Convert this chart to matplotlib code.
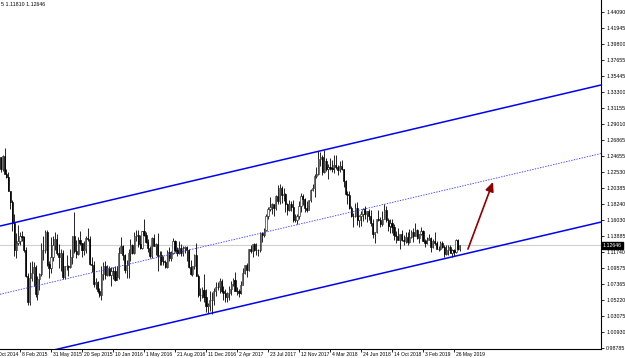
import matplotlib
matplotlib.use("Agg")
import matplotlib.pyplot as plt
import matplotlib.transforms as mtransforms
import pandas as pd
import numpy as np

# ---------------- data ----------------
first_week = "2014-11-16"   # Sunday of first weekly bar
axis_origin = "2014-10-19"  # first date tick

opens = [
    1.2527,1.2387,1.2452,1.2288,1.2465,1.2229,1.2186,1.2001,1.1842,1.1567,
    1.1205,1.1291,1.1315,1.1388,1.1374,1.1196,1.0845,1.0496,1.0824,1.0888,
    1.0970,1.0603,1.0806,1.0873,1.1199,1.1201,1.1447,1.1015,1.0957,1.1110,
    1.1262,1.1350,1.1165,1.1110,1.1164,1.0832,1.0982,1.0985,1.0970,1.1106,
    1.1385,1.1182,1.1148,1.1338,1.1296,1.1199,1.1211,1.1358,1.1346,1.1016,
    1.1003,1.0738,1.0770,1.0643,1.0593,1.0881,1.0989,1.0866,1.0963,1.0863,
    1.0923,1.0916,1.0797,1.0831,1.1157,1.1255,1.1130,1.0933,1.1004,1.1154,
    1.1270,1.1166,1.1390,1.1397,1.1286,1.1226,1.1454,1.1403,1.1310,1.1222,
    1.1116,1.1367,1.1253,1.1278,1.1117,1.1136,1.1053,1.1039,1.0977,1.1175,
    1.1086,1.1160,1.1325,1.1199,1.1157,1.1233,1.1154,1.1226,1.1239,1.1201,
    1.0972,1.0881,1.0987,1.1138,1.0853,1.0588,1.0589,1.0666,1.0562,1.0450,
    1.0454,1.0520,1.0530,1.0644,1.0707,1.0698,1.0784,1.0642,1.0617,1.0562,
    1.0620,1.0671,1.0739,1.0798,1.0652,1.0642,1.0614,1.0726,1.0895,1.0996,
    1.0931,1.1207,1.1183,1.1282,1.1196,1.1197,1.1196,1.1426,1.1399,1.1470,
    1.1664,1.1750,1.1774,1.1819,1.1761,1.1924,1.1860,1.2035,1.1945,1.1951,
    1.1814,1.1733,1.1822,1.1785,1.1607,1.1609,1.1665,1.1792,1.1933,1.1892,
    1.1765,1.1746,1.1869,1.2005,1.2030,1.2198,1.2221,1.2427,1.2460,1.2251,
    1.2406,1.2295,1.2317,1.2307,1.2289,1.2352,1.2324,1.2280,1.2330,1.2288,
    1.2130,1.1960,1.1942,1.1766,1.1654,1.1659,1.1768,1.1609,1.1655,1.1684,
    1.1748,1.1686,1.1722,1.1658,1.1567,1.1411,1.1438,1.1621,1.1602,1.1553,
    1.1623,1.1745,1.1604,1.1524,1.1560,1.1513,1.1400,1.1387,1.1336,1.1417,
    1.1339,1.1315,1.1377,1.1305,1.1371,1.1443,1.1395,1.1469,1.1364,1.1411,
    1.1455,1.1324,1.1295,1.1334,1.1365,1.1235,1.1325,1.1301,1.1217,1.1216,
    1.1300,1.1245,1.1149,1.1199,1.1234,1.1157,1.1204,1.1168,1.1334,1.1208,
]
highs = [
    1.2600,1.2530,1.2456,1.2477,1.2570,1.2290,1.2246,1.2001,1.1868,1.1680,
    1.1424,1.1534,1.1444,1.1450,1.1387,1.1242,1.0887,1.1043,1.1051,1.1035,
    1.1000,1.0849,1.0892,1.1290,1.1392,1.1467,1.1465,1.1057,1.1380,1.1385,
    1.1436,1.1410,1.1278,1.1216,1.1201,1.0986,1.1129,1.0995,1.1214,1.1390,
    1.1714,1.1332,1.1370,1.1460,1.1300,1.1318,1.1387,1.1495,1.1387,1.1107,
    1.1047,1.0829,1.0776,1.0684,1.0981,1.1043,1.1058,1.0993,1.0990,1.0971,
    1.0973,1.0987,1.0986,1.1247,1.1376,1.1261,1.1148,1.1060,1.1218,1.1342,
    1.1278,1.1438,1.1465,1.1464,1.1397,1.1462,1.1616,1.1446,1.1349,1.1249,
    1.1373,1.1416,1.1298,1.1428,1.1187,1.1186,1.1120,1.1067,1.1198,1.1234,
    1.1185,1.1366,1.1341,1.1240,1.1327,1.1284,1.1257,1.1260,1.1248,1.1215,
    1.1059,1.0986,1.1146,1.1300,1.0874,1.0690,1.0700,1.0874,1.0668,1.0485,
    1.0653,1.0628,1.0685,1.0775,1.0775,1.0829,1.0806,1.0713,1.0680,1.0630,
    1.0714,1.0782,1.0826,1.0906,1.0703,1.0678,1.0778,1.0955,1.0996,1.1023,
    1.1212,1.1268,1.1285,1.1296,1.1296,1.1216,1.1445,1.1445,1.1490,1.1683,
    1.1777,1.1910,1.1828,1.1824,1.1941,1.2070,1.2092,1.2059,1.2034,1.1965,
    1.1830,1.1880,1.1860,1.1880,1.1688,1.1680,1.1862,1.1965,1.1961,1.1900,
    1.1862,1.1877,1.2023,1.2089,1.2219,1.2323,1.2537,1.2516,1.2476,1.2555,
    1.2434,1.2354,1.2445,1.2413,1.2476,1.2477,1.2345,1.2396,1.2414,1.2290,
    1.2139,1.1997,1.1995,1.1799,1.1700,1.1840,1.1852,1.1676,1.1720,1.1765,
    1.1791,1.1727,1.1750,1.1745,1.1622,1.1445,1.1623,1.1734,1.1650,1.1722,
    1.1815,1.1793,1.1625,1.1622,1.1621,1.1550,1.1456,1.1500,1.1418,1.1472,
    1.1401,1.1443,1.1441,1.1486,1.1474,1.1497,1.1570,1.1480,1.1418,1.1514,
    1.1463,1.1345,1.1373,1.1420,1.1373,1.1345,1.1448,1.1325,1.1255,1.1324,
    1.1324,1.1265,1.1265,1.1264,1.1265,1.1215,1.1214,1.1348,1.1348,1.1266,
]
lows = [
    1.2359,1.2358,1.2247,1.2271,1.2219,1.2165,1.1999,1.1754,1.1460,1.1114,
    1.1098,1.1262,1.1270,1.1316,1.1174,1.0840,1.0462,1.0457,1.0777,1.0713,
    1.0570,1.0520,1.0659,1.0844,1.1064,1.1154,1.0990,1.0819,1.0886,1.1050,
    1.1195,1.1130,1.0955,1.0920,1.0809,1.0808,1.0924,1.0848,1.0954,1.1017,
    1.1155,1.1086,1.1138,1.1273,1.1104,1.1126,1.1162,1.1325,1.0999,1.0897,
    1.0706,1.0674,1.0617,1.0564,1.0524,1.0796,1.0805,1.0850,1.0848,1.0711,
    1.0804,1.0777,1.0810,1.0810,1.1154,1.1066,1.0890,1.0825,1.0822,1.1057,
    1.1144,1.1144,1.1327,1.1234,1.1215,1.1217,1.1384,1.1300,1.1178,1.1098,
    1.1097,1.1252,1.1131,1.0912,1.0999,1.0999,1.1000,1.0952,1.0953,1.1045,
    1.1046,1.1146,1.1177,1.1122,1.1140,1.1120,1.1122,1.1155,1.1051,1.0958,
    1.0858,1.0851,1.0943,1.0851,1.0570,1.0518,1.0550,1.0505,1.0366,1.0352,
    1.0380,1.0340,1.0453,1.0580,1.0658,1.0620,1.0620,1.0521,1.0494,1.0495,
    1.0525,1.0598,1.0717,1.0650,1.0592,1.0570,1.0600,1.0726,1.0873,1.0838,
    1.0922,1.1161,1.1109,1.1186,1.1131,1.1119,1.1174,1.1312,1.1371,1.1454,
    1.1612,1.1729,1.1688,1.1662,1.1734,1.1823,1.1823,1.1838,1.1861,1.1717,
    1.1669,1.1730,1.1730,1.1574,1.1574,1.1553,1.1616,1.1714,1.1812,1.1717,
    1.1716,1.1735,1.1849,1.1995,1.1915,1.2165,1.2214,1.2336,1.2206,1.2234,
    1.2260,1.2154,1.2272,1.2258,1.2240,1.2290,1.2215,1.2256,1.2280,1.2055,
    1.1937,1.1823,1.1750,1.1645,1.1510,1.1645,1.1541,1.1508,1.1527,1.1591,
    1.1614,1.1574,1.1610,1.1529,1.1365,1.1300,1.1430,1.1590,1.1510,1.1526,
    1.1613,1.1576,1.1462,1.1432,1.1432,1.1335,1.1301,1.1330,1.1216,1.1323,
    1.1267,1.1288,1.1269,1.1301,1.1365,1.1309,1.1390,1.1345,1.1289,1.1406,
    1.1323,1.1234,1.1277,1.1334,1.1176,1.1228,1.1270,1.1210,1.1183,1.1200,
    1.1227,1.1111,1.1135,1.1134,1.1156,1.1107,1.1116,1.1160,1.1202,1.1181,
]
closes = [
    1.2387,1.2452,1.2288,1.2465,1.2229,1.2186,1.2001,1.1842,1.1567,1.1205,
    1.1291,1.1315,1.1388,1.1374,1.1196,1.0845,1.0496,1.0824,1.0888,1.0970,
    1.0603,1.0806,1.0873,1.1199,1.1201,1.1447,1.1015,1.0957,1.1110,1.1262,
    1.1350,1.1165,1.1110,1.1164,1.0832,1.0982,1.0985,1.0970,1.1106,1.1385,
    1.1182,1.1148,1.1338,1.1296,1.1199,1.1211,1.1358,1.1346,1.1016,1.1003,
    1.0738,1.0770,1.0643,1.0593,1.0881,1.0989,1.0866,1.0963,1.0863,1.0923,
    1.0916,1.0797,1.0831,1.1157,1.1255,1.1130,1.0933,1.1004,1.1154,1.1270,
    1.1166,1.1390,1.1397,1.1286,1.1226,1.1454,1.1403,1.1310,1.1222,1.1116,
    1.1367,1.1253,1.1278,1.1117,1.1136,1.1053,1.1039,1.0977,1.1175,1.1086,
    1.1160,1.1325,1.1199,1.1157,1.1233,1.1154,1.1226,1.1239,1.1201,1.0972,
    1.0881,1.0987,1.1138,1.0853,1.0588,1.0589,1.0666,1.0562,1.0450,1.0454,
    1.0520,1.0530,1.0644,1.0707,1.0698,1.0784,1.0642,1.0617,1.0562,1.0620,
    1.0671,1.0739,1.0798,1.0652,1.0642,1.0614,1.0726,1.0895,1.0996,1.0931,
    1.1207,1.1183,1.1282,1.1196,1.1197,1.1196,1.1426,1.1399,1.1470,1.1664,
    1.1750,1.1774,1.1819,1.1761,1.1924,1.1860,1.2035,1.1945,1.1951,1.1814,
    1.1733,1.1822,1.1785,1.1607,1.1609,1.1665,1.1792,1.1933,1.1892,1.1765,
    1.1746,1.1869,1.2005,1.2030,1.2198,1.2221,1.2427,1.2460,1.2251,1.2406,
    1.2295,1.2317,1.2307,1.2289,1.2352,1.2324,1.2280,1.2330,1.2288,1.2130,
    1.1960,1.1942,1.1766,1.1654,1.1659,1.1768,1.1609,1.1655,1.1684,1.1748,
    1.1686,1.1722,1.1658,1.1567,1.1411,1.1438,1.1621,1.1602,1.1553,1.1623,
    1.1745,1.1604,1.1524,1.1560,1.1513,1.1400,1.1387,1.1336,1.1417,1.1339,
    1.1315,1.1377,1.1305,1.1371,1.1443,1.1395,1.1469,1.1364,1.1411,1.1455,
    1.1324,1.1295,1.1334,1.1365,1.1235,1.1325,1.1301,1.1217,1.1216,1.1300,
    1.1245,1.1149,1.1199,1.1234,1.1157,1.1204,1.1168,1.1334,1.1208,1.12646,
]

date_labels = ["19 Oct 2014", "8 Feb 2015", "31 May 2015", "20 Sep 2015", "10 Jan 2016",
               "1 May 2016", "21 Aug 2016", "11 Dec 2016", "2 Apr 2017", "23 Jul 2017",
               "12 Nov 2017", "4 Mar 2018", "24 Jun 2018", "14 Oct 2018", "3 Feb 2019",
               "26 May 2019"]
price_labels = ["1.44090", "1.41945", "1.39800", "1.37655", "1.35445", "1.33300", "1.31155",
                "1.29010", "1.26865", "1.24655", "1.22530", "1.20385", "1.18240", "1.16030",
                "1.13885", "1.11740", "1.09575", "1.07365", "1.05220", "1.03075", "1.00930",
                "0.98785"]

current_price = 1.12646
header_text = "5 1.11810 1.12646"

# channel anchor points (week index, price)
chan_weeks = [5.68, 315.9]
chan_upper = [1.1523, 1.3425]
chan_middle = [1.0603, 1.2501]
chan_lower = [0.9682, 1.1577]

# projection arrow (week index, price)
arrow_weeks = [247.2, 260.1]
arrow_prices = [1.1213, 1.2117]

# ---------------- figure ----------------
W, H = 625, 358
fig = plt.figure(figsize=(W / 100, H / 100), dpi=100)
fig.patch.set_facecolor("white")
plot_right = 601
plot_bottom = 348.5
ax = fig.add_axes([0, (H - plot_bottom) / H, plot_right / W, plot_bottom / H])
ax.set_facecolor("white")

font = ["Liberation Sans", "DejaVu Sans"]
fs = 3.8
fs_date = 3.6

origin = pd.Timestamp(axis_origin)
bar_dates = pd.date_range(first_week, periods=len(closes), freq="7D")
xw = np.array([(d - origin).days / 7.0 for d in bar_dates])

o = np.array(opens); h = np.array(highs); l = np.array(lows); c = np.array(closes)

# current-price line behind candles
ax.axhline(current_price, color="#cfcfcf", lw=0.8, zorder=1)

# wicks
ax.vlines(xw, np.minimum(l, np.minimum(o, c)), np.maximum(h, np.maximum(o, c)),
          color="black", lw=0.6, zorder=3)
# bodies
bull = c >= o
bw = 0.62
ax.bar(xw[bull], np.maximum(c[bull] - o[bull], 0.0004), bottom=o[bull], width=bw,
       facecolor="white", edgecolor="#222222", lw=0.45, zorder=4)
ax.bar(xw[~bull], np.maximum(o[~bull] - c[~bull], 0.0004), bottom=c[~bull], width=bw,
       facecolor="black", edgecolor="black", lw=0.45, zorder=4)

# channel
ax.plot(chan_weeks, chan_upper, color="#0000ff", lw=1.1, zorder=5, solid_capstyle="butt")
ax.plot(chan_weeks, chan_lower, color="#0000ff", lw=1.1, zorder=5, solid_capstyle="butt")
ax.plot(chan_weeks, chan_middle, color="#3030ff", lw=0.6, ls=(0, (1.6, 1.6)), zorder=5)

# arrow
ax.annotate("", xy=(arrow_weeks[1], arrow_prices[1]), xytext=(arrow_weeks[0], arrow_prices[0]),
            arrowprops=dict(arrowstyle="-|>,head_length=0.55,head_width=0.25",
                            color="#8b0000", lw=1.2, shrinkA=0, shrinkB=0,
                            mutation_scale=10), zorder=6)

for s in ["left", "top"]:
    ax.spines[s].set_visible(False)
for s in ["right", "bottom"]:
    ax.spines[s].set_color("black")
    ax.spines[s].set_linewidth(0.8)

# y axis on right
ax.yaxis.tick_right()
ax.set_yticks([float(v) for v in price_labels])
ax.set_yticklabels(price_labels, fontsize=fs, family=font)
ax.tick_params(axis="y", direction="out", length=2.5, width=0.6, pad=1.2, colors="black")

# x axis dates (first one lies left of the visible area, drawn separately)
tick_w = [(pd.Timestamp(d) - origin).days / 7.0 for d in date_labels]
ax.set_xticks(tick_w[1:])
ax.set_xticklabels(date_labels[1:], fontsize=fs_date, family=font, ha="left")
ax.tick_params(axis="x", direction="out", length=2.5, width=0.6, pad=0.3, colors="black")
offset = mtransforms.ScaledTranslation(1.5 / 100, 0, fig.dpi_scale_trans)
for lab in ax.get_xticklabels():
    lab.set_transform(lab.get_transform() + offset)
first_lab = ax.text(tick_w[0], 0, date_labels[0], ha="left", va="top",
                    fontsize=fs_date, family=font, clip_on=False)
first_lab.set_transform(ax.get_xaxis_transform()
                        + mtransforms.ScaledTranslation(1.5 / 100, -3.0 / 100, fig.dpi_scale_trans))

# limits (pixel scale: 1.9375 px/week, 0.0013484 per px)
ax.set_xlim(5.677, 315.87)
ax.set_ylim(0.98718, 1.45708)

# current price box
ax.text(1.0 + 2 / plot_right, current_price, f"{current_price:.5f}",
        transform=ax.get_yaxis_transform(), ha="left", va="center",
        fontsize=fs, family=font, color="white", zorder=10, clip_on=False,
        bbox=dict(boxstyle="square,pad=0.2", facecolor="black", edgecolor="black"))

# header text
fig.text(1 / W, 1 - 4.5 / H, header_text, fontsize=fs, family=font, ha="left", va="center")

fig.savefig("out.png", dpi=100, facecolor="white")
